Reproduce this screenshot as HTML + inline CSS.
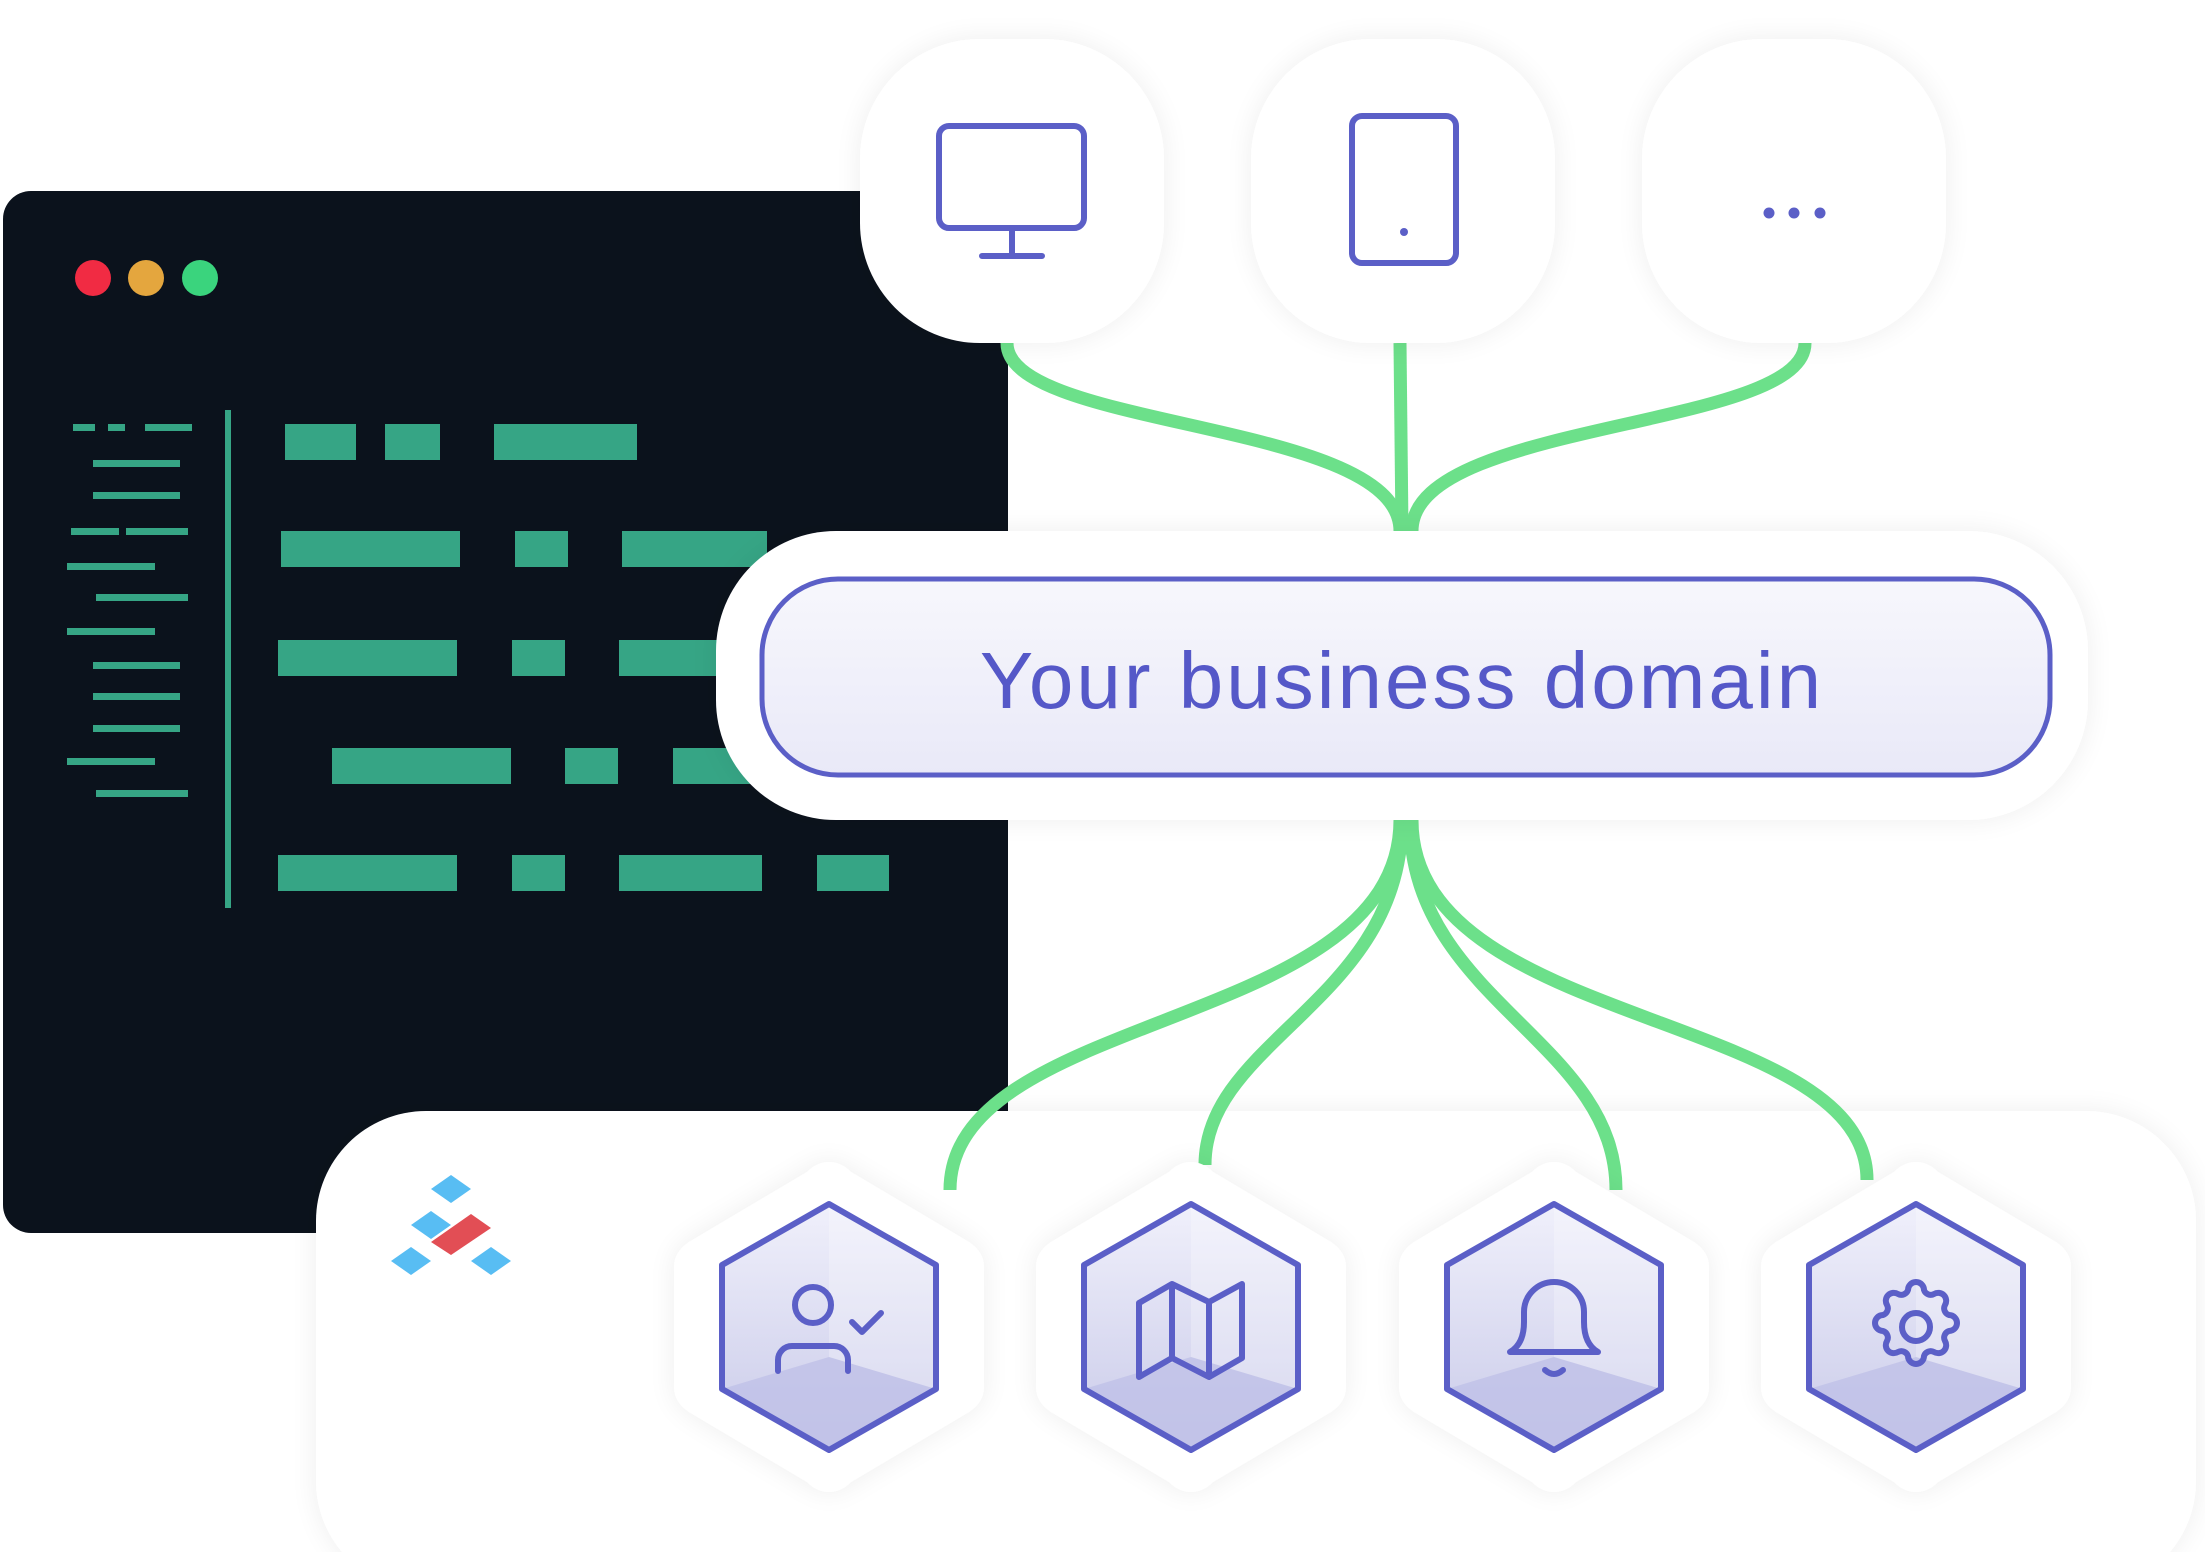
<!DOCTYPE html>
<html><head><meta charset="utf-8"><style>
html,body{margin:0;padding:0;background:#fff;width:2205px;height:1552px;overflow:hidden}
svg{display:block}
</style></head><body>
<svg width="2205" height="1552" viewBox="0 0 2205 1552" xmlns="http://www.w3.org/2000/svg">
<defs>
<filter id="sh" x="-20%" y="-20%" width="140%" height="140%"><feGaussianBlur in="SourceAlpha" stdDeviation="14"/><feComponentTransfer><feFuncA type="linear" slope="0.07"/></feComponentTransfer><feMerge><feMergeNode/><feMergeNode in="SourceGraphic"/></feMerge></filter>
<linearGradient id="pill" x1="0" y1="0" x2="0" y2="1"><stop offset="0" stop-color="#f7f7fc"/><stop offset="1" stop-color="#e9e9f8"/></linearGradient>
<linearGradient id="hx" x1="0" y1="0" x2="0" y2="1"><stop offset="0" stop-color="#f0f0fb"/><stop offset="1" stop-color="#c9cae9"/></linearGradient>
</defs>
<!-- terminal -->
<rect x="3" y="191" width="1005" height="1042" rx="28" fill="#0b121c"/>
<circle cx="93" cy="278" r="18" fill="#f12b43"/>
<circle cx="146" cy="278" r="18" fill="#e4a63e"/>
<circle cx="200" cy="278" r="18" fill="#3ad47d"/>
<rect x="225" y="410" width="6" height="498" fill="#36a585"/>
<g fill="#36a585">
<rect x="73" y="424" width="22" height="7"/><rect x="108" y="424" width="17" height="7"/><rect x="145" y="424" width="47" height="7"/>
<rect x="93" y="460" width="87" height="7"/><rect x="93" y="492" width="87" height="7"/>
<rect x="71" y="528" width="48" height="7"/><rect x="126" y="528" width="62" height="7"/>
<rect x="67" y="563" width="88" height="7"/><rect x="96" y="594" width="92" height="7"/>
<rect x="67" y="628" width="88" height="7"/><rect x="93" y="662" width="87" height="7"/>
<rect x="93" y="693" width="87" height="7"/><rect x="93" y="725" width="87" height="7"/>
<rect x="67" y="758" width="88" height="7"/><rect x="96" y="790" width="92" height="7"/>
<rect x="285" y="424" width="71" height="36"/><rect x="385" y="424" width="55" height="36"/><rect x="494" y="424" width="143" height="36"/>
<rect x="281" y="531" width="179" height="36"/><rect x="515" y="531" width="53" height="36"/><rect x="622" y="531" width="145" height="36"/>
<rect x="278" y="640" width="179" height="36"/><rect x="512" y="640" width="53" height="36"/><rect x="619" y="640" width="145" height="36"/>
<rect x="332" y="748" width="179" height="36"/><rect x="565" y="748" width="53" height="36"/><rect x="673" y="748" width="145" height="36"/>
<rect x="278" y="855" width="179" height="36"/><rect x="512" y="855" width="53" height="36"/><rect x="619" y="855" width="143" height="36"/><rect x="817" y="855" width="72" height="36"/>
</g>
<!-- bottom panel -->
<rect x="316" y="1111" width="1880" height="480" rx="110" fill="#fff" filter="url(#sh)"/>
<!-- logo -->
<g>
<polygon points="451,1175 471,1189 451,1203 431,1189" fill="#58bdf3"/>
<polygon points="431,1211 451,1225 431,1239 411,1225" fill="#58bdf3"/>
<polygon points="471,1214 491,1228 451,1255 431,1242" fill="#e24e55"/>
<polygon points="411,1247 431,1261 411,1275 391,1261" fill="#58bdf3"/>
<polygon points="491,1247 511,1261 491,1275 471,1261" fill="#58bdf3"/>
</g>
<!-- connectors -->
<g fill="none" stroke="#6ce08a" stroke-width="13">
<path d="M1007,343 C1007,430 1400,420 1400,531"/>
<path d="M1400,343 L1402,531"/>
<path d="M1805,343 C1805,430 1412,420 1412,531"/>
<path d="M1400,820 C1400,1030 950,1010 950,1190"/>
<path d="M1402,820 C1402,1000 1205,1040 1205,1165"/>
<path d="M1410,820 C1410,1000 1616,1040 1616,1190"/>
<path d="M1412,820 C1412,1030 1867,1010 1867,1180"/>
</g>
<!-- top cards -->
<g fill="#fff" filter="url(#sh)">
<rect x="860" y="39" width="304" height="304" rx="120"/>
<rect x="1251" y="39" width="304" height="304" rx="120"/>
<rect x="1642" y="39" width="304" height="304" rx="120"/>
</g>
<g fill="none" stroke="#5b5fc7" stroke-width="6" stroke-linecap="round">
<rect x="939" y="126" width="145" height="102" rx="10"/>
<path d="M1012,228 V255 M982,256 H1042"/>
<rect x="1352" y="116" width="104" height="147" rx="10"/>
</g>
<g fill="#5b5fc7"><circle cx="1404" cy="232" r="4"/><circle cx="1769" cy="213" r="5.5"/><circle cx="1794" cy="213" r="5.5"/><circle cx="1820" cy="213" r="5.5"/></g>
<!-- domain -->
<rect x="716" y="531" width="1372" height="289" rx="120" fill="#fff" filter="url(#sh)"/>
<rect x="762" y="579" width="1288" height="196" rx="76" fill="url(#pill)" stroke="#5b5fc7" stroke-width="5"/>
<text x="1402" y="708" text-anchor="middle" font-family="Liberation Sans, sans-serif" font-size="80" letter-spacing="3" fill="#5558c8">Your business domain</text>
<!-- hexes -->
<g id="hexes">
<g transform="translate(829,1327)">
<path d="M0,-165 Q12,-165 22,-155 L140,-85 Q155,-75 155,-60 V60 Q155,75 140,85 L22,155 Q12,165 0,165 Q-12,165 -22,155 L-140,85 Q-155,75 -155,60 V-60 Q-155,-75 -140,-85 L-22,-155 Q-12,-165 0,-165Z" fill="#fff" filter="url(#sh)"/>
<polygon points="0,-123 107,-62 107,62 0,123 -107,62 -107,-62" fill="url(#hx)"/>
<polygon points="0,30 107,62 0,123 -107,62" fill="#bfc0e7" opacity="0.8"/>
<polygon points="0,-123 107,-62 107,62 0,30" fill="#fff" opacity="0.25"/>
<polygon points="0,-123 107,-62 107,62 0,123 -107,62 -107,-62" fill="none" stroke="#5b5fc7" stroke-width="6" stroke-linejoin="round"/>
</g>
<g transform="translate(1191,1327)">
<path d="M0,-165 Q12,-165 22,-155 L140,-85 Q155,-75 155,-60 V60 Q155,75 140,85 L22,155 Q12,165 0,165 Q-12,165 -22,155 L-140,85 Q-155,75 -155,60 V-60 Q-155,-75 -140,-85 L-22,-155 Q-12,-165 0,-165Z" fill="#fff" filter="url(#sh)"/>
<polygon points="0,-123 107,-62 107,62 0,123 -107,62 -107,-62" fill="url(#hx)"/>
<polygon points="0,30 107,62 0,123 -107,62" fill="#bfc0e7" opacity="0.8"/>
<polygon points="0,-123 107,-62 107,62 0,30" fill="#fff" opacity="0.25"/>
<polygon points="0,-123 107,-62 107,62 0,123 -107,62 -107,-62" fill="none" stroke="#5b5fc7" stroke-width="6" stroke-linejoin="round"/>
</g>
<g transform="translate(1554,1327)">
<path d="M0,-165 Q12,-165 22,-155 L140,-85 Q155,-75 155,-60 V60 Q155,75 140,85 L22,155 Q12,165 0,165 Q-12,165 -22,155 L-140,85 Q-155,75 -155,60 V-60 Q-155,-75 -140,-85 L-22,-155 Q-12,-165 0,-165Z" fill="#fff" filter="url(#sh)"/>
<polygon points="0,-123 107,-62 107,62 0,123 -107,62 -107,-62" fill="url(#hx)"/>
<polygon points="0,30 107,62 0,123 -107,62" fill="#bfc0e7" opacity="0.8"/>
<polygon points="0,-123 107,-62 107,62 0,30" fill="#fff" opacity="0.25"/>
<polygon points="0,-123 107,-62 107,62 0,123 -107,62 -107,-62" fill="none" stroke="#5b5fc7" stroke-width="6" stroke-linejoin="round"/>
</g>
<g transform="translate(1916,1327)">
<path d="M0,-165 Q12,-165 22,-155 L140,-85 Q155,-75 155,-60 V60 Q155,75 140,85 L22,155 Q12,165 0,165 Q-12,165 -22,155 L-140,85 Q-155,75 -155,60 V-60 Q-155,-75 -140,-85 L-22,-155 Q-12,-165 0,-165Z" fill="#fff" filter="url(#sh)"/>
<polygon points="0,-123 107,-62 107,62 0,123 -107,62 -107,-62" fill="url(#hx)"/>
<polygon points="0,30 107,62 0,123 -107,62" fill="#bfc0e7" opacity="0.8"/>
<polygon points="0,-123 107,-62 107,62 0,30" fill="#fff" opacity="0.25"/>
<polygon points="0,-123 107,-62 107,62 0,123 -107,62 -107,-62" fill="none" stroke="#5b5fc7" stroke-width="6" stroke-linejoin="round"/>
</g>
</g>
<!-- icons -->
<g fill="none" stroke="#5b5fc7" stroke-width="6" stroke-linecap="round" stroke-linejoin="round">
<circle cx="813" cy="1305" r="18"/>
<path d="M778,1371 V1360 a14,14 0 0 1 14,-14 h42 a14,14 0 0 1 14,14 v11"/>
<path d="M852,1322 l10,10 l19,-19"/>
<path d="M1139,1303 L1172,1284 L1209,1302 L1242,1284 V1358 L1209,1377 L1172,1358 L1139,1377 Z M1172,1284 V1358 M1209,1302 V1377"/>
<path d="M1510,1352 q14,-8 14,-30 v-10 a30,30 0 0 1 60,0 v10 q0,22 14,30 z"/>
<path d="M1545,1370 q9,8 18,0"/>
<circle cx="1916" cy="1327" r="14"/>
<path d="M1916,1282 a8,8 0 0 1 8,8 a7,7 0 0 0 10,4 a8,8 0 0 1 11,11 a7,7 0 0 0 4,10 a8,8 0 0 1 0,16 a7,7 0 0 0 -4,10 a8,8 0 0 1 -11,11 a7,7 0 0 0 -10,4 a8,8 0 0 1 -16,0 a7,7 0 0 0 -10,-4 a8,8 0 0 1 -11,-11 a7,7 0 0 0 -4,-10 a8,8 0 0 1 0,-16 a7,7 0 0 0 4,-10 a8,8 0 0 1 11,-11 a7,7 0 0 0 10,-4 a8,8 0 0 1 8,-8 z"/>
</g>
</svg>
</body></html>
